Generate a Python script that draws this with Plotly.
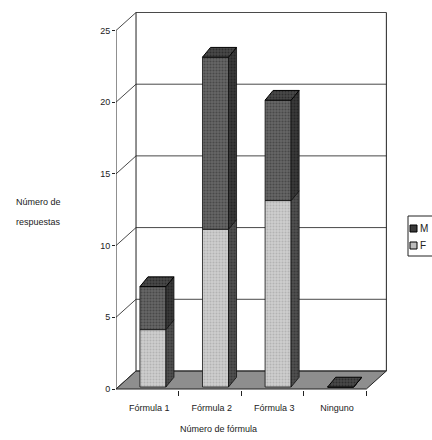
import plotly.graph_objects as go

categories = ["Fórmula 1", "Fórmula 2", "Fórmula 3", "Ninguno"]
f_values = [4, 11, 13, 0]
m_values = [3, 12, 7, 0]
y_ticks = [0, 5, 10, 15, 20, 25]

# geometry (data units)
L, R, T, B = 116, 45, 12, 50
W_PX, H_PX = 432, 440
XMAX = 4.33
YMIN, YMAX = -0.07, 26.29
DX, DY = 0.32, 1.256          # depth of the box (floor / walls)
BAR_W = 0.416
BAR_SHIFT = 0.59              # front face centre inside category
BASE = 0.14                   # front face bottom (sits a little into the floor)
BDX, BDY = 0.128, 0.68        # depth of each column

plot_w = W_PX - L - R
plot_h = H_PX - T - B


def px_x(p):
    return (p - L) / plot_w


def px_y(p):
    return (H_PX - B - p) / plot_h


n = len(categories)
centers = [i + BAR_SHIFT for i in range(n)]
xl = [c - BAR_W / 2 for c in centers]
xr = [c + BAR_W / 2 for c in centers]
f_base = [BASE] * n
m_base = [BASE + f for f in f_values]
tops = [BASE + f + m for f, m in zip(f_values, m_values)]

fig = go.Figure()

F_FRONT, F_FG = "#cdcdcd", "#9a9a9a"
M_FRONT, M_FG = "#666666", "#2c2c2c"

fig.add_trace(go.Bar(x=centers, y=f_values, base=f_base, width=BAR_W, name="F",
                     marker=dict(color=F_FRONT, line=dict(color="#111", width=0.8),
                                 pattern=dict(shape=".", fgcolor=F_FG, bgcolor=F_FRONT,
                                              size=3, solidity=0.35)),
                     showlegend=False, hoverinfo="skip"))
fig.add_trace(go.Bar(x=centers, y=m_values, base=m_base, width=BAR_W, name="M",
                     marker=dict(color=M_FRONT, line=dict(color="#111", width=0.8),
                                 pattern=dict(shape=".", fgcolor=M_FG, bgcolor=M_FRONT,
                                              size=3, solidity=0.4)),
                     showlegend=False, hoverinfo="skip"))


def side_path(lo, hi):
    xs, ys = [], []
    for i in range(n):
        xs += [xr[i], xr[i] + BDX, xr[i] + BDX, xr[i], xr[i], None]
        ys += [lo[i], lo[i] + BDY, hi[i] + BDY, hi[i], lo[i], None]
    return xs, ys


sx, sy = side_path(f_base, m_base)
fig.add_trace(go.Scatter(x=sx, y=sy, mode="lines", fill="toself",
                         fillcolor="#4a4a4a", line=dict(color="#111", width=0.8),
                         fillpattern=dict(shape=".", fgcolor="#222", bgcolor="#505050",
                                          size=3, solidity=0.4),
                         showlegend=False, hoverinfo="skip"))
sx, sy = side_path(m_base, tops)
fig.add_trace(go.Scatter(x=sx, y=sy, mode="lines", fill="toself",
                         fillcolor="#2e2e2e", line=dict(color="#111", width=0.8),
                         fillpattern=dict(shape=".", fgcolor="#111", bgcolor="#3a3a3a",
                                          size=3, solidity=0.4),
                         showlegend=False, hoverinfo="skip"))

tx, ty = [], []
for i in range(n):
    tx += [xl[i], xr[i], xr[i] + BDX, xl[i] + BDX, xl[i], None]
    ty += [tops[i], tops[i], tops[i] + BDY, tops[i] + BDY, tops[i], None]
fig.add_trace(go.Scatter(x=tx, y=ty, mode="lines", fill="toself",
                         fillcolor="#3a3a3a", line=dict(color="#000", width=1),
                         fillpattern=dict(shape=".", fgcolor="#111", bgcolor="#4a4a4a",
                                          size=3, solidity=0.4),
                         showlegend=False, hoverinfo="skip"))

shapes = []
line_k = dict(color="#222", width=1)
# floor
shapes.append(dict(type="path", xref="x", yref="y", layer="below",
                   path=f"M 0 0 L 4 0 L {4+DX} {DY} L {DX} {DY} Z",
                   fillcolor="#8e8e8e", line=dict(color="#222", width=1)))
# grid lines on back wall and left wall
for v in y_ticks:
    shapes.append(dict(type="line", xref="x", yref="y", layer="below",
                       x0=DX, x1=4 + DX, y0=v + DY, y1=v + DY, line=dict(color="#333", width=0.9)))
    shapes.append(dict(type="line", xref="x", yref="y", layer="below",
                       x0=0, x1=DX, y0=v, y1=v + DY, line=dict(color="#333", width=0.9)))
# walls edges
shapes.append(dict(type="line", xref="x", yref="y", layer="below",
                   x0=DX, x1=DX, y0=DY, y1=25 + DY, line=line_k))
shapes.append(dict(type="line", xref="x", yref="y", layer="below",
                   x0=4 + DX, x1=4 + DX, y0=DY, y1=25 + DY, line=line_k))
shapes.append(dict(type="line", xref="x", yref="y", layer="below",
                   x0=0, x1=0, y0=0, y1=25, line=line_k))

# legend (drawn manually)
shapes.append(dict(type="rect", xref="paper", yref="paper",
                   x0=px_x(408), x1=px_x(445), y0=px_y(216), y1=px_y(256),
                   line=dict(color="#222", width=1), fillcolor="white"))
shapes.append(dict(type="rect", xref="paper", yref="paper",
                   x0=px_x(410), x1=px_x(417), y0=px_y(225), y1=px_y(232),
                   line=dict(color="#000", width=1), fillcolor="#3a3a3a"))
shapes.append(dict(type="rect", xref="paper", yref="paper",
                   x0=px_x(410), x1=px_x(417), y0=px_y(242), y1=px_y(249),
                   line=dict(color="#000", width=1), fillcolor="#bdbdbd"))

font = dict(family="Liberation Sans, Arial, sans-serif", size=9, color="#222")
annotations = [
    dict(text="M", xref="paper", yref="paper", x=px_x(418), y=px_y(228.5),
         xanchor="left", yanchor="middle", showarrow=False, font=dict(font, size=10)),
    dict(text="F", xref="paper", yref="paper", x=px_x(418), y=px_y(245.5),
         xanchor="left", yanchor="middle", showarrow=False, font=dict(font, size=10)),
    dict(text="Número de fórmula", xref="paper", yref="paper", x=px_x(218), y=px_y(429),
         xanchor="center", yanchor="middle", showarrow=False, font=font),
    dict(text="Número de", xref="paper", yref="paper", x=px_x(14), y=px_y(202),
         xanchor="left", yanchor="middle", showarrow=False, font=font),
    dict(text="respuestas", xref="paper", yref="paper", x=px_x(14), y=px_y(222),
         xanchor="left", yanchor="middle", showarrow=False, font=font),
]

fig.update_layout(
    width=W_PX, height=H_PX,
    margin=dict(l=L, r=R, t=T, b=B, pad=0),
    paper_bgcolor="white", plot_bgcolor="white",
    barmode="overlay", showlegend=False,
    shapes=shapes, annotations=annotations, font=font,
    xaxis=dict(range=[0, XMAX], tickvals=[i + 0.53 for i in range(n)], ticktext=categories,
               showgrid=False, zeroline=False, showline=False,
               ticks="outside", ticklen=9, tickcolor="rgba(0,0,0,0)",
               minor=dict(tickvals=[1, 2, 3, 4], ticks="outside", ticklen=5,
                          tickcolor="#222", showgrid=False),
               tickfont=font, fixedrange=True),
    yaxis=dict(range=[YMIN, YMAX], tickvals=y_ticks, ticktext=[str(v) for v in y_ticks],
               showgrid=False, zeroline=False, showline=False,
               ticks="outside", ticklen=3, tickcolor="#222",
               tickfont=font, fixedrange=True),
)

fig.write_html("out.html", config={"displayModeBar": False},
               post_script="document.body.style.margin='0';document.body.style.padding='0';")
